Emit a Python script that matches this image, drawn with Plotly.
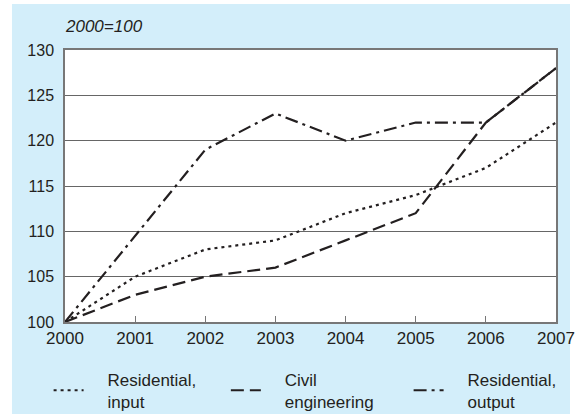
import plotly.graph_objects as go

years = [2000, 2001, 2002, 2003, 2004, 2005, 2006, 2007]
residential_input = [100, 105, 108, 109, 112, 114, 117, 122]
civil_engineering = [100, 103, 105, 106, 109, 112, 122, 128]
residential_output = [100, 109.5, 119, 123, 120, 122, 122, 128]

series_names = [["Residential,", "input"], ["Civil", "engineering"], ["Residential,", "output"]]
series_values = [residential_input, civil_engineering, residential_output]
# dash patterns: dotted, dashed, dash-dot
dashes = ["3px,4px", "13px,6px", "13px,5px,3px,5px"]

FONT = "Liberation Sans, Arial, sans-serif"
INK = "#231f20"
PAD = "\u00a0" * 4  # pushes legend text away from the line sample

fig = go.Figure()
legend_ids = ["legend", "legend2", "legend3"]
for name, vals, dash, lg in zip(series_names, series_values, dashes, legend_ids):
    fig.add_trace(go.Scatter(
        x=years, y=vals, name="<br>".join(PAD + part for part in name), mode="lines",
        line=dict(color=INK, width=2.2, dash=dash), legend=lg,
    ))

# light blue panel behind everything, white plotting area on top of it
fig.add_shape(type="rect", xref="paper", yref="paper",
              x0=-0.108, x1=1.0285, y0=-0.34, y1=1.169,
              fillcolor="#d3eefa", line_width=0, layer="below")
fig.add_shape(type="rect", xref="paper", yref="paper",
              x0=0, x1=1, y0=0, y1=1,
              fillcolor="white", line_width=0, layer="below")

fig.add_annotation(text="<i>2000=100</i>", xref="paper", yref="paper",
                   x=-0.005, y=1.085, xanchor="left", yanchor="middle",
                   showarrow=False, font=dict(size=17, color=INK, family=FONT))

fig.update_xaxes(
    range=[2000, 2007], tickvals=years, ticks="inside", ticklen=6,
    tickcolor="#777", showgrid=False, showline=True, linecolor="#777",
    linewidth=1.5, mirror=True, zeroline=False, fixedrange=True,
    tickfont=dict(size=17, color=INK, family=FONT),
)
fig.update_yaxes(
    range=[100, 130], dtick=5, showgrid=True, gridcolor="#666", gridwidth=1,
    showline=True, linecolor="#777", linewidth=1.5, mirror=True,
    zeroline=False, ticks="", ticklabelstandoff=6, fixedrange=True,
    tickfont=dict(size=16, color=INK, family=FONT),
)

legend_style = dict(orientation="h", y=-0.1457, xanchor="left", yanchor="top",
                    bgcolor="rgba(0,0,0,0)",
                    font=dict(size=17, color=INK, family=FONT))
fig.update_layout(
    width=575, height=414,
    margin=dict(l=65, r=19, t=50, b=92, autoexpand=False),
    paper_bgcolor="white", plot_bgcolor="white",
    showlegend=True,
    legend=dict(x=-0.0334, **legend_style),
    legend2=dict(x=0.3276, **legend_style),
    legend3=dict(x=0.6998, **legend_style),
    font=dict(family=FONT, color=INK),
)

# drop the browser's default page margin so the figure sits at (0, 0)
fig.write_html("out.html", config={"displayModeBar": False},
               post_script="document.body.style.margin = '0';")
